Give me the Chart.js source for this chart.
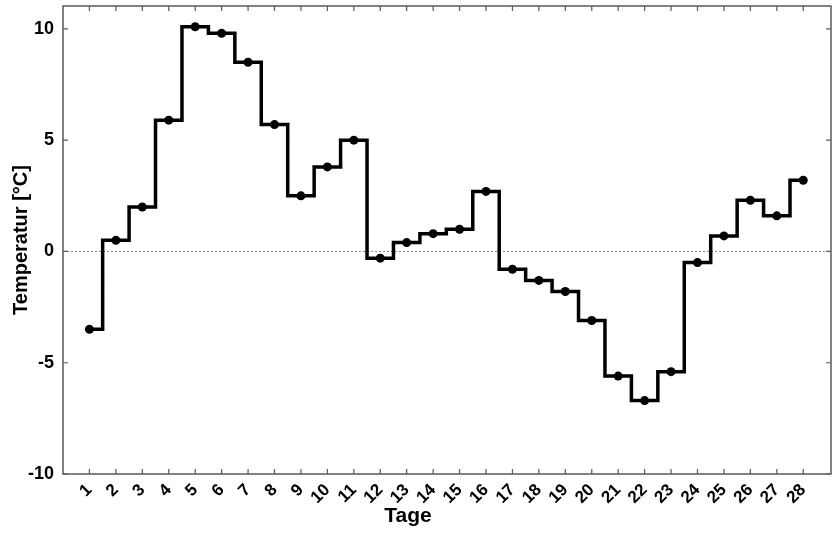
<!DOCTYPE html>
<html>
<head>
<meta charset="utf-8">
<script src="https://cdn.jsdelivr.net/npm/chart.js@4.4.1/dist/chart.umd.min.js"></script>
<style>
  html, body { margin: 0; padding: 0; background: #fff; }
  #wrap { width: 840px; height: 540px; }
</style>
</head>
<body>
<div id="wrap"><canvas id="tempChart" width="840" height="540"></canvas></div>
<script>
const tage = [1, 2, 3, 4, 5, 6, 7, 8, 9, 10, 11, 12, 13, 14, 15, 16, 17, 18, 19, 20, 21, 22, 23, 24, 25, 26, 27, 28];
const temperatur = [-3.5, 0.5, 2.0, 5.9, 10.1, 9.8, 8.5, 5.7, 2.5, 3.8, 5.0, -0.3, 0.4, 0.8, 1.0, 2.7,
    -0.8, -1.3, -1.8, -3.1, -5.6, -6.7, -5.4, -0.5, 0.7, 2.3, 1.6, 3.2];
const yTicks = [-10, -5, 0, 5, 10];

const fontFamily = '"Liberation Sans", Arial, Helvetica, sans-serif';
const axisColor = '#5a5a5a';

// frame, inward ticks, dotted zero line and the x title
const axisBox = {
    id: 'axisBox',
    beforeDatasetsDraw(chart) {
        const {ctx, chartArea: a, scales: {y}} = chart;
        const y0 = y.getPixelForValue(0);
        ctx.save();
        ctx.strokeStyle = '#8a8a8a';
        ctx.lineWidth = 1;
        ctx.setLineDash([2, 2]);
        ctx.beginPath();
        ctx.moveTo(a.left, y0);
        ctx.lineTo(a.right, y0);
        ctx.stroke();
        ctx.restore();
    },
    afterDraw(chart) {
        const {ctx, chartArea: a, scales: {x, y}} = chart;
        const tl = 5;
        ctx.save();
        ctx.strokeStyle = axisColor;
        ctx.lineWidth = 1.5;
        ctx.strokeRect(a.left, a.top, a.right - a.left, a.bottom - a.top);
        ctx.lineWidth = 1.2;
        ctx.beginPath();
        tage.forEach(t => {
            const px = x.getPixelForValue(t);
            ctx.moveTo(px, a.bottom); ctx.lineTo(px, a.bottom - tl);
            ctx.moveTo(px, a.top); ctx.lineTo(px, a.top + tl);
        });
        yTicks.forEach(v => {
            const py = y.getPixelForValue(v);
            ctx.moveTo(a.left, py); ctx.lineTo(a.left + tl, py);
            ctx.moveTo(a.right, py); ctx.lineTo(a.right - tl, py);
        });
        ctx.stroke();

        ctx.fillStyle = '#000';
        ctx.font = 'bold 21px ' + fontFamily;
        ctx.textAlign = 'center';
        ctx.textBaseline = 'alphabetic';
        ctx.fillText('Tage', 408, 522);
        ctx.restore();
    }
};

new Chart(document.getElementById('tempChart'), {
    type: 'line',
    data: {
        datasets: [{
            label: 'Temperatur',
            data: tage.map((t, i) => ({x: t, y: temperatur[i]})),
            stepped: 'middle',
            borderColor: '#000',
            borderWidth: 3.5,
            backgroundColor: '#000',
            pointRadius: 4.5,
            pointBorderWidth: 0,
            fill: false
        }]
    },
    options: {
        responsive: false,
        animation: false,
        layout: {padding: {top: 6, right: 9, left: 0, bottom: 0}},
        plugins: {
            legend: {display: false},
            tooltip: {enabled: false}
        },
        scales: {
            x: {
                type: 'linear',
                min: 0,
                max: 29.05,
                afterBuildTicks: s => { s.ticks = tage.map(v => ({value: v})); },
                afterFit: s => { s.height = 66; s.paddingLeft = 0; s.paddingRight = 0; },
                grid: {display: false, drawTicks: false},
                border: {display: false},
                ticks: {
                    color: '#000',
                    font: {family: fontFamily, size: 17, weight: 'bold'},
                    minRotation: 45,
                    maxRotation: 45,
                    padding: 6,
                    autoSkip: false
                }
            },
            y: {
                min: -10,
                max: 11.03,
                afterBuildTicks: s => { s.ticks = yTicks.map(v => ({value: v})); },
                afterFit: s => { s.width = 63; s.paddingTop = 0; s.paddingBottom = 0; },
                grid: {display: false, drawTicks: false},
                border: {display: false},
                ticks: {
                    color: '#000',
                    font: {family: fontFamily, size: 18, weight: 'bold'},
                    padding: 9
                },
                title: {
                    display: true,
                    text: 'Temperatur [°C]',
                    color: '#000',
                    font: {family: fontFamily, size: 20, weight: 'bold'},
                    padding: {top: 9, bottom: 0}
                }
            }
        }
    },
    plugins: [axisBox]
});
</script>
</body>
</html>
